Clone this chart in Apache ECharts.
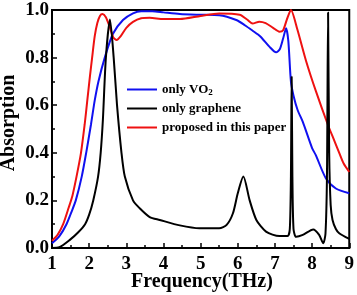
<!DOCTYPE html>
<html><head><meta charset="utf-8">
<script src="https://cdn.jsdelivr.net/npm/echarts@6/dist/echarts.min.js"></script>
<style>html,body{margin:0;padding:0;background:#fff}#c{width:357px;height:295px}</style>
</head><body><div id="c"></div>
<script>
var xTicks = [1, 2, 3, 4, 5, 6, 7, 8, 9];
var yTicks = ['0.0', '0.2', '0.4', '0.6', '0.8', '1.0'];
var seriesNames = ['only VO2', 'only graphene', 'proposed in this paper'];
var xTitle = 'Frequency(THz)';
var yTitle = 'Absorption';

var freqVO2 = [1.0, 1.2, 1.39, 1.52, 1.64, 1.8, 1.92, 2.05, 2.15, 2.25, 2.42, 2.64, 2.91, 3.18, 3.4, 3.7, 4.0, 4.44, 5.0, 5.5, 5.96, 6.2, 6.4, 6.6, 6.85, 7.03, 7.13, 7.22, 7.3, 7.36, 7.43, 7.5, 7.61, 7.75, 8.0, 8.1, 8.37, 8.64, 9.0];
var absVO2 = [0.02, 0.05, 0.10, 0.15, 0.20, 0.30, 0.40, 0.52, 0.62, 0.70, 0.80, 0.90, 0.958, 0.986, 0.995, 0.995, 0.99, 0.983, 0.98, 0.978, 0.958, 0.935, 0.913, 0.89, 0.846, 0.822, 0.835, 0.88, 0.923, 0.87, 0.70, 0.64, 0.58, 0.53, 0.42, 0.39, 0.293, 0.25, 0.23];

var freqGraphene = [1.0, 1.2, 1.48, 1.7, 1.89, 2.0, 2.11, 2.24, 2.31, 2.37, 2.45, 2.56, 2.66, 2.75, 2.87, 2.96, 3.18, 3.36, 3.63, 3.9, 4.44, 4.97, 5.5, 5.7, 5.87, 6.0, 6.15, 6.32, 6.5, 6.76, 7.12, 7.34, 7.40, 7.43, 7.45, 7.47, 7.50, 7.57, 7.75, 8.03, 8.19, 8.30, 8.36, 8.40, 8.43, 8.46, 8.50, 8.55, 8.64, 8.73, 9.0];
var absGraphene = [0.0, 0.003, 0.034, 0.065, 0.10, 0.14, 0.20, 0.30, 0.40, 0.54, 0.80, 0.96, 0.80, 0.60, 0.40, 0.30, 0.20, 0.167, 0.13, 0.118, 0.095, 0.083, 0.083, 0.097, 0.146, 0.23, 0.30, 0.20, 0.118, 0.069, 0.05, 0.05, 0.08, 0.30, 0.72, 0.30, 0.08, 0.047, 0.055, 0.078, 0.055, 0.02, 0.06, 0.30, 0.99, 0.40, 0.18, 0.118, 0.08, 0.062, 0.038];

var freqProposed = [1.0, 1.15, 1.3, 1.45, 1.55, 1.66, 1.78, 1.88, 1.95, 2.02, 2.08, 2.15, 2.22, 2.29, 2.36, 2.45, 2.55, 2.65, 2.74, 2.85, 3.0, 3.18, 3.4, 3.63, 4.0, 4.44, 5.0, 5.5, 6.05, 6.25, 6.4, 6.58, 6.75, 6.95, 7.12, 7.22, 7.32, 7.43, 7.6, 7.84, 8.1, 8.42, 8.6, 8.73, 8.85, 9.0];
var absProposed = [0.03, 0.055, 0.10, 0.17, 0.22, 0.30, 0.40, 0.52, 0.62, 0.72, 0.80, 0.89, 0.945, 0.975, 0.983, 0.97, 0.93, 0.885, 0.874, 0.89, 0.925, 0.95, 0.965, 0.967, 0.962, 0.962, 0.975, 0.985, 0.98, 0.96, 0.943, 0.951, 0.945, 0.925, 0.909, 0.915, 0.96, 1.0, 0.92, 0.785, 0.66, 0.52, 0.45, 0.40, 0.355, 0.32];

function pairs(xs, ys) { return xs.map(function (x, i) { return [x, ys[i]]; }); }

var FONT = '"Liberation Serif", "Times New Roman", serif';
var chart = echarts.init(document.getElementById('c'), null, {renderer: 'canvas'});
function lineSeries(name, xs, ys, color) {
  return {
    name: name, type: 'line', data: pairs(xs, ys), symbol: 'none',
    smooth: 0.25,
    lineStyle: {color: color, width: 2}, itemStyle: {color: color}
  };
}
chart.setOption({
  animation: false,
  grid: {left: 52, right: 7, top: 10, bottom: 47, show: true, borderColor: '#000', borderWidth: 2, backgroundColor: 'transparent'},
  legend: {
    orient: 'vertical', left: 122, top: 75, itemGap: 4,
    icon: 'rect', itemWidth: 30, itemHeight: 2,
    data: seriesNames,
    formatter: function (n) { return n === 'only VO2' ? 'only VO{sub|2}' : n; },
    textStyle: {fontFamily: FONT, fontWeight: 'bold', fontSize: 13, color: '#000', lineHeight: 15,
      rich: {sub: {fontFamily: FONT, fontWeight: 'bold', fontSize: 9, color: '#000', verticalAlign: 'bottom', padding: [8, 0, 0, 0], lineHeight: 15}}}
  },
  graphic: [
    {type: 'text', left: 'center', top: 272, style: {text: xTitle, font: 'bold 20px ' + FONT, fill: '#000'}, left: 131},
    {type: 'text', x: 9, y: 123, rotation: Math.PI / 2,
      style: {text: yTitle, font: 'bold 20px ' + FONT, fill: '#000', align: 'center', verticalAlign: 'middle'}}
  ],
  xAxis: {
    type: 'value', min: 1, max: 9, interval: 1,
    axisLine: {lineStyle: {color: '#000', width: 2}},
    axisTick: {inside: true, length: 5, lineStyle: {color: '#000', width: 1.5}},
    minorTick: {show: true, splitNumber: 2, length: 3, lineStyle: {color: '#000', width: 1.5}},
    splitLine: {show: false},
    axisLabel: {fontFamily: FONT, fontWeight: 'bold', fontSize: 19, color: '#000', margin: 7,
      formatter: function (v) { return String(xTicks[Math.round(v) - 1]); }}
  },
  yAxis: {
    type: 'value', min: 0, max: 1, interval: 0.2,
    axisLine: {show: true, lineStyle: {color: '#000', width: 2}},
    axisTick: {show: true, inside: true, length: 5, lineStyle: {color: '#000', width: 1.5}},
    minorTick: {show: true, splitNumber: 2, length: 3, lineStyle: {color: '#000', width: 1.5}},
    splitLine: {show: false},
    axisLabel: {fontFamily: FONT, fontWeight: 'bold', fontSize: 19, color: '#000', margin: 3,
      formatter: function (v) { return yTicks[Math.round(v * 5)]; }}
  },
  series: [
    lineSeries(seriesNames[0], freqVO2, absVO2, '#1010f0'),
    lineSeries(seriesNames[2], freqProposed, absProposed, '#ee1111'),
    lineSeries(seriesNames[1], freqGraphene, absGraphene, '#000000')
  ]
});
</script></body></html>
